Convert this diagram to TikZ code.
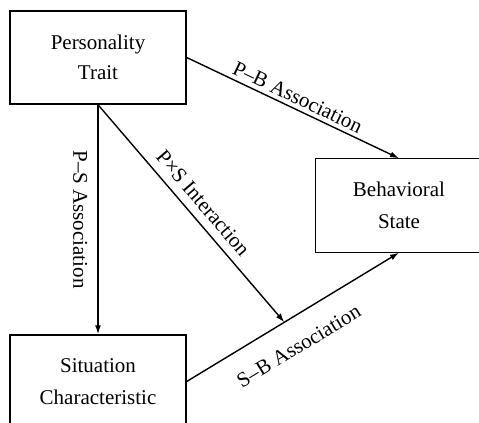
\documentclass[tikz,border=0pt]{standalone}
\usepackage{fontspec}
\setmainfont{Liberation Serif}
\usetikzlibrary{arrows.meta,positioning}

\begin{document}
\begin{tikzpicture}[>={Latex[length=4.5pt,width=3pt]},line width=0.7pt,on grid,
	font=\fontsize{10.5}{15}\selectfont,
	box/.style={draw,rectangle,align=center,minimum width=88pt,minimum height=46.5pt,inner sep=0pt},
	lbl/.style={sloped,inner sep=2pt}]
	\useasboundingbox (-49pt,28.75pt) rectangle (190.5pt,-182.75pt);
	\node[box] (p) {Personality\\Trait};
	\node[box,font=\fontsize{10.5}{16}\selectfont] (s) [below=162pt of p] {Situation\\Characteristic};
	\node[box,draw=none,minimum width=83pt,font=\fontsize{10.5}{16}\selectfont] (b) [below right=74pt and 150.5pt of p] {Behavioral\\State};
	% box runs off the right edge
	\draw ([xshift=20pt]b.north east) -- (b.north west) -- (b.south west) -- ([xshift=20pt]b.south east);
	\path[->]
	(p.east)  edge node [lbl,above] {P--B Association} (b.north)
	(p.south) edge node [lbl,below=3pt] {P--S Association} (s.north)
	(s.east)  edge node [coordinate,pos=0.46] (x) {}
	               node [lbl,below=8pt,pos=0.46] {S--B Association} (b.south);
	\path[->] (p.south) edge node [lbl,above=2pt] {P×S Interaction} (x);
\end{tikzpicture}
\end{document}
